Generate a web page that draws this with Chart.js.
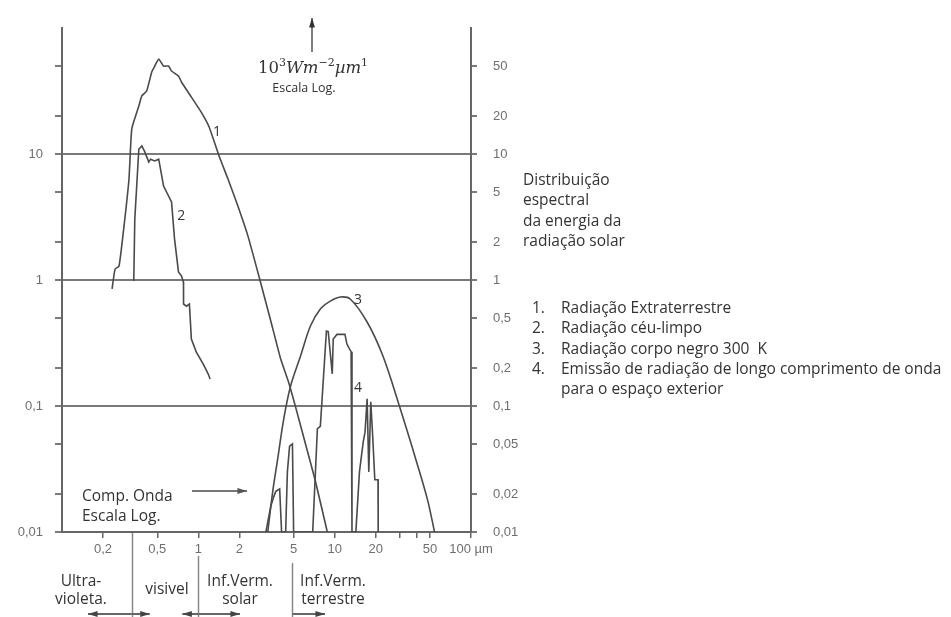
<!DOCTYPE html>
<html lang="pt">
<head>
<meta charset="utf-8">
<title>Distribuição espectral da energia da radiação solar</title>
<script src="https://cdn.jsdelivr.net/npm/chart.js@4.4.1/dist/chart.umd.min.js"></script>
<style>
  body { margin: 0; background: #fff; }
  #wrap { position: relative; width: 951px; height: 617px; overflow: hidden; font-family: "Open Sans", sans-serif; color: #333; }
  #wrap canvas { position: absolute; left: 0; top: 0; }
  .note { position: absolute; white-space: nowrap; font-size: 15.5px; line-height: 20.3px; }
  .band { position: absolute; white-space: nowrap; font-size: 15.5px; line-height: 18px; text-align: center; width: 100px; }
  #units { left: 243px; top: 53px; width: 140px; text-align: center; font-family: "DejaVu Serif", serif; font-size: 16.5px; line-height: 20px; }
  #units i { font-style: italic; }
  #units sup { font-size: 11px; }
  #unitsScale { left: 254px; top: 79px; width: 100px; text-align: center; font-size: 12.5px; line-height: 18px; }
  #legend .n { position: absolute; left: 0; }
  #legend .t { position: absolute; left: 29px; }
</style>
</head>
<body>
<div id="wrap">
  <canvas id="chart"></canvas>

  <div id="units" class="note">10<sup>3</sup><i>Wm</i><sup>−2</sup><i>µm</i><sup>1</sup></div>
  <div id="unitsScale" class="note">Escala Log.</div>

  <div class="note" style="left:523px; top:169px;">Distribuição<br>espectral<br>da energia da<br>radiação solar</div>

  <div id="legend" class="note" style="left:532px; top:297px; width:420px; height:110px;">
    <span class="n" style="top:0">1.</span><span class="t" style="top:0">Radiação Extraterrestre</span>
    <span class="n" style="top:20.3px">2.</span><span class="t" style="top:20.3px">Radiação céu-limpo</span>
    <span class="n" style="top:40.6px">3.</span><span class="t" style="top:40.6px">Radiação corpo negro 300&nbsp; K</span>
    <span class="n" style="top:60.9px">4.</span><span class="t" style="top:60.9px">Emissão de radiação de longo comprimento de onda</span>
    <span class="t" style="top:81.2px">para o espaço exterior</span>
  </div>

  <div class="note" style="left:82px; top:485px; line-height:20px;">Comp. Onda<br>Escala Log.</div>

  <div class="band" style="left:31px; top:571px;">Ultra-<br>violeta.</div>
  <div class="band" style="left:117px; top:579px;">visivel</div>
  <div class="band" style="left:190px; top:571px;">Inf.Verm.<br>solar</div>
  <div class="band" style="left:283px; top:571px;">Inf.Verm.<br>terrestre</div>
</div>

<script>
// axis ticks
const xTickValues = [0.2, 0.5, 1, 2, 5, 10, 20, 30, 40, 50, 100];
const xTickLabels = [0.2, 0.5, 1, 2, 5, 10, 20, 50, 100];
const yLeftLabels = [0.01, 0.1, 1, 10];
const yTickValues = [0.01, 0.02, 0.05, 0.1, 0.2, 0.5, 1, 2, 5, 10, 20, 50];
const yGridValues = [0.1, 1, 10];

// 1 - extraterrestrial radiation
const extraWl  = [0.233, 0.245, 0.262, 0.285, 0.31, 0.325, 0.366, 0.385, 0.418, 0.455, 0.479, 0.512, 0.556, 0.605, 0.636, 0.715, 0.752, 0.889, 1.05, 1.2, 1.42, 1.65, 1.95, 2.31, 2.83, 3.4, 4.02, 4.59, 5.17, 6.11, 7.22, 8.83];
const extraVal = [0.85, 1.22, 1.29, 2.68, 6.33, 15.8, 24, 28.9, 31.6, 44.8, 49.9, 56.7, 49.9, 49.9, 45.6, 41.6, 37.3, 28.3, 21.5, 16.4, 9.64, 6.33, 3.87, 2.24, 1, 0.473, 0.236, 0.155, 0.098, 0.05, 0.0254, 0.01];

// 2 - clear sky radiation
const clearWl  = [0.336, 0.342, 0.366, 0.385, 0.405, 0.433, 0.447, 0.478, 0.512, 0.556, 0.636, 0.669, 0.715, 0.752, 0.778, 0.779, 0.818, 0.86, 0.889, 0.967, 1.087, 1.18, 1.22];
const clearVal = [0.98, 3.05, 10.9, 11.6, 10.4, 8.65, 9.1, 8.8, 9.1, 5.57, 4.16, 2.12, 1.16, 1.08, 0.96, 0.645, 0.62, 0.645, 0.34, 0.268, 0.215, 0.18, 0.164];

// 3 - black body 300 K
const bodyWl  = [3.23, 3.51, 3.82, 4.23, 4.75, 5.62, 6.64, 7.85, 9.29, 11, 13, 17.3, 22.6, 30, 39.9, 48, 54];
const bodyVal = [0.01, 0.0208, 0.038, 0.0788, 0.144, 0.249, 0.431, 0.589, 0.68, 0.733, 0.707, 0.464, 0.249, 0.098, 0.036, 0.018, 0.01];

// 4 - long wave emission to outer space
const emisWl  = [3.13, 3.4, 3.57, 3.7, 3.95, 4.08, 4.37, 4.5, 4.67, 4.9, 5.0, 6.9, 7.47, 7.85, 8.7, 8.97, 9.6, 9.76, 10.4, 11.9, 12.3, 12.7, 13.2, 13.4, 14.3, 15.2, 16.2, 16.7, 17.3, 17.8, 18.4, 19.0, 19.7, 20.8, 20.85];
const emisVal = [0.01, 0.016, 0.019, 0.021, 0.022, 0.01, 0.01, 0.03, 0.048, 0.05, 0.01, 0.01, 0.066, 0.069, 0.394, 0.39, 0.18, 0.34, 0.37, 0.37, 0.31, 0.29, 0.27, 0.01, 0.01, 0.03, 0.052, 0.062, 0.114, 0.03, 0.108, 0.058, 0.026, 0.026, 0.01];

// curve numbers
const curveTags = ["1", "2", "3", "4"];
const tagWl  = [1.37, 0.75, 14.8, 14.8];
const tagVal = [15, 3.2, 0.7, 0.14];

// wavelength band edges (µm)
const bandEdges = [0.325, 1.0, 4.9];

const LINE = "#4a4a4a";
const AXIS = "#666";
const GRID = "#7a7a7a";
const TICK = "#6e6e6e";

function fmt(v) {
    return String(v).replace(".", ",");
}

function pairs(xs, ys) {
    return xs.map((x, i) => ({ x: x, y: ys[i] }));
}

function curve(xs, ys, tension) {
    return {
        data: pairs(xs, ys),
        showLine: true,
        borderColor: LINE,
        borderWidth: 1.6,
        pointRadius: 0,
        tension: tension
    };
}

function arrow(ctx, x1, y1, x2, y2) {
    const a = Math.atan2(y2 - y1, x2 - x1);
    ctx.beginPath();
    ctx.moveTo(x1, y1);
    ctx.lineTo(x2, y2);
    ctx.stroke();
    ctx.beginPath();
    ctx.moveTo(x2, y2);
    ctx.lineTo(x2 - 10 * Math.cos(a - 0.3), y2 - 10 * Math.sin(a - 0.3));
    ctx.lineTo(x2 - 10 * Math.cos(a + 0.3), y2 - 10 * Math.sin(a + 0.3));
    ctx.closePath();
    ctx.fill();
}

// labels, arrows and band dividers
const extras = {
    id: "extras",
    afterDraw(chart) {
        const ctx = chart.ctx;
        const xs = chart.scales.x;
        const ys = chart.scales.y;
        ctx.save();

        ctx.fillStyle = "#333";
        ctx.font = "14px 'Open Sans', sans-serif";
        ctx.textAlign = "center";
        ctx.textBaseline = "middle";
        curveTags.forEach((t, i) => {
            ctx.fillText(t, xs.getPixelForValue(tagWl[i]), ys.getPixelForValue(tagVal[i]));
        });

        ctx.strokeStyle = "#555";
        ctx.fillStyle = "#333";
        ctx.lineWidth = 1.5;
        arrow(ctx, 312, 52, 312, 18);
        ctx.strokeStyle = "#777";
        ctx.fillStyle = "#555";
        ctx.lineWidth = 2;
        arrow(ctx, 192, 491, 247, 491);

        // band dividers under the axis
        ctx.strokeStyle = "#888";
        ctx.lineWidth = 1.5;
        const tops = [533, 556, 563];
        bandEdges.forEach((b, i) => {
            const px = Math.round(xs.getPixelForValue(b)) + 0.5;
            ctx.beginPath();
            ctx.moveTo(px, tops[i]);
            ctx.lineTo(px, 617);
            ctx.stroke();
        });

        // band arrows
        const e0 = xs.getPixelForValue(bandEdges[0]);
        const e1 = xs.getPixelForValue(bandEdges[1]);
        const e2 = xs.getPixelForValue(bandEdges[2]);
        ctx.strokeStyle = "#666";
        ctx.fillStyle = "#444";
        ctx.lineWidth = 2;
        arrow(ctx, e0, 614, 88, 614);
        arrow(ctx, e0, 614, e0 + 18, 614);
        arrow(ctx, e1, 614, e1 - 16, 614);
        arrow(ctx, e1, 614, 240, 614);
        arrow(ctx, e2, 614, 325, 614);

        ctx.restore();
    }
};

new Chart(document.getElementById("chart"), {
    type: "scatter",
    data: {
        datasets: [
            curve(extraWl, extraVal, 0.15),
            curve(clearWl, clearVal, 0),
            curve(bodyWl, bodyVal, 0.35),
            curve(emisWl, emisVal, 0)
        ]
    },
    options: {
        responsive: true,
        maintainAspectRatio: false,
        animation: false,
        events: [],
        layout: { padding: { top: 28, left: 0, right: 420, bottom: 45 } },
        plugins: { legend: { display: false }, tooltip: { enabled: false } },
        scales: {
            x: {
                type: "logarithmic",
                min: 0.1,
                max: 100,
                afterBuildTicks: s => { s.ticks = xTickValues.map(v => ({ value: v })); },
                afterFit: s => { s.height = 40; },
                ticks: {
                    autoSkip: false,
                    maxRotation: 0,
                    padding: 4,
                    color: TICK,
                    font: { family: "Liberation Sans", size: 13 },
                    callback: v => xTickLabels.includes(v) ? (v === 100 ? "100 µm" : fmt(v)) : ""
                },
                grid: { drawOnChartArea: false, tickLength: 6, color: AXIS, lineWidth: 1.5 },
                border: { color: AXIS, width: 2 }
            },
            y: {
                type: "logarithmic",
                position: "left",
                min: 0.01,
                max: 100,
                afterBuildTicks: s => { s.ticks = yTickValues.map(v => ({ value: v })); },
                afterFit: s => { s.width = 62; },
                ticks: {
                    autoSkip: false,
                    padding: 12,
                    color: TICK,
                    font: { family: "Liberation Sans", size: 13 },
                    callback: v => yLeftLabels.includes(v) ? fmt(v) : ""
                },
                grid: {
                    tickLength: 7,
                    lineWidth: 2,
                    color: c => c.tick && yGridValues.includes(c.tick.value) ? GRID : "rgba(0,0,0,0)",
                    tickColor: GRID
                },
                border: { color: AXIS, width: 2 }
            },
            y2: {
                type: "logarithmic",
                position: "right",
                min: 0.01,
                max: 100,
                afterBuildTicks: s => { s.ticks = yTickValues.map(v => ({ value: v })); },
                afterFit: s => { s.width = 60; },
                ticks: {
                    autoSkip: false,
                    padding: 16,
                    color: TICK,
                    font: { family: "Liberation Sans", size: 13 },
                    callback: v => fmt(v)
                },
                grid: { drawOnChartArea: false, tickLength: 6, color: GRID, lineWidth: 2 },
                border: { color: AXIS, width: 2 }
            }
        }
    },
    plugins: [extras]
});
</script>
</body>
</html>
